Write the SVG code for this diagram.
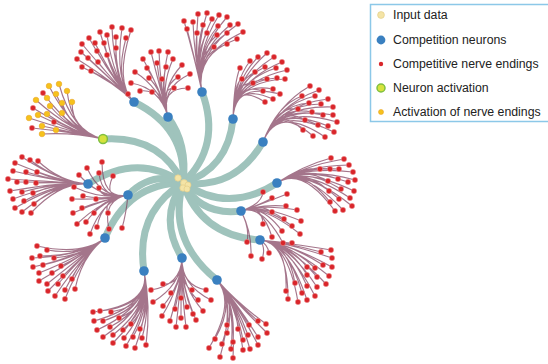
<svg xmlns="http://www.w3.org/2000/svg" width="548" height="364" viewBox="0 0 548 364">
<style>
.teal{fill:none;stroke:#95bdb5;stroke-width:7;stroke-linecap:round;opacity:.9}
.twig{fill:none;stroke:#82415f;stroke-width:1.15;opacity:.72}
.end circle{fill:#d9262b;stroke:#f3b3b3;stroke-width:.4}
.yend circle{fill:#f6c21c;stroke:#eaa52a;stroke-width:.6}
.neuron{fill:#3a80c0}
.act{fill:#d6e23c;stroke:#7fbf40;stroke-width:1.5}
.input{fill:#f4e4a6;stroke:#e4cf8a;stroke-width:.7}
.lbl{font-family:"Liberation Sans",Arial,sans-serif;font-size:12.3px;fill:#222}
</style>
<rect width="548" height="364" fill="#fff"/>
<g id="connectors">
<g id="trunks" class="teal">
<path d="M183,183Q187,128 134,102"/>
<path d="M183,183Q188,144 168,117"/>
<path d="M183,183Q160,135 103,139"/>
<path d="M183,183Q222,146 202,92"/>
<path d="M183,183Q228,169 233,119"/>
<path d="M183,183Q235,190 263,142"/>
<path d="M183,183Q228,214 277,183"/>
<path d="M183,183Q201,216 241,211"/>
<path d="M183,183Q201,236 260,240"/>
<path d="M183,183Q167,240 217,280"/>
<path d="M183,183Q158,218 182,258"/>
<path d="M183,183Q135,212 144,271"/>
<path d="M183,183Q128,183 105,238"/>
<path d="M183,183Q153,170 128,195"/>
<path d="M183,183Q138,152 88,184"/>
</g>
<g id="twigs" class="twig">
<path d="M134,102Q114,82 77,59M134,102Q114,82 82,67M134,102Q114,82 81,52M134,102Q114,82 82,44M134,102Q114,82 89,38M134,102Q114,82 100,32M134,102Q114,82 112,27M134,102Q114,82 122,28M134,102Q114,82 131,30M134,102Q114,82 126,38M134,102Q114,82 116,37M134,102Q114,82 107,35M134,102Q114,82 95,43M134,102Q114,82 104,43M134,102Q114,82 116,48M134,102Q114,82 97,51M134,102Q114,82 88,58M134,102Q114,82 107,55M134,102Q114,82 98,62M134,102Q114,82 91,71M134,102Q130,97 128,94"/>
<path d="M168,117Q160,88 135,72M168,117Q160,88 131,83M168,117Q160,88 140,91M168,117Q160,88 152,92M168,117Q160,88 143,59M168,117Q160,88 151,52M168,117Q160,88 159,51M168,117Q160,88 168,52M168,117Q160,88 173,59M168,117Q160,88 182,65M168,117Q160,88 178,77M168,117Q160,88 174,88M168,117Q160,88 147,68M168,117Q160,88 157,63M168,117Q160,88 166,67M168,117Q160,88 149,78M168,117Q160,88 162,79M168,117Q160,88 190,74M168,117Q160,88 188,88"/>
<path d="M103,139Q72,132 49,86M103,139Q72,132 59,84M103,139Q72,132 67,91M103,139Q72,132 72,102M103,139Q72,132 36,100M103,139Q72,132 47,98M103,139Q72,132 56,94M103,139Q72,132 62,103M103,139Q72,132 50,106M103,139Q72,132 38,115M103,139Q72,132 47,114M103,139Q72,132 62,113M103,139Q72,132 29,118M103,139Q72,132 42,126M103,139Q72,132 56,130M103,139Q72,132 42,134M103,139Q72,132 43,93M103,139Q72,132 33,108M103,139Q72,132 54,122M103,139Q72,132 32,128"/>
<path d="M202,92Q194,55 184,21M202,92Q194,55 193,22M202,92Q194,55 198,14M202,92Q194,55 207,13M202,92Q194,55 212,19M202,92Q194,55 219,15M202,92Q194,55 227,17M202,92Q194,55 238,24M202,92Q194,55 243,32M202,92Q194,55 237,39M202,92Q194,55 227,44M202,92Q194,55 214,47M202,92Q194,55 207,33M202,92Q194,55 218,26M202,92Q194,55 230,25M202,92Q194,55 227,33M202,92Q194,55 217,35M202,92Q194,55 187,29M202,92Q194,55 197,33M202,92Q194,55 203,25"/>
<path d="M233,119Q234,82 240,68M233,119Q234,82 250,61M233,119Q234,82 258,57M233,119Q234,82 267,53M233,119Q234,82 274,57M233,119Q234,82 282,62M233,119Q234,82 287,70M233,119Q234,82 285,79M233,119Q234,82 277,78M233,119Q234,82 267,79M233,119Q234,82 253,83M233,119Q234,82 242,79M233,119Q234,82 255,72M233,119Q234,82 265,67M233,119Q234,82 276,68M233,119Q234,82 263,91M233,119Q234,82 273,89M233,119Q234,82 280,94M233,119Q234,82 273,99M233,119Q234,82 265,102"/>
<path d="M263,142Q277,105 310,86M263,142Q277,105 319,90M263,142Q277,105 302,96M263,142Q277,105 315,96M263,142Q277,105 328,99M263,142Q277,105 309,103M263,142Q277,105 321,104M263,142Q277,105 333,107M263,142Q277,105 298,109M263,142Q277,105 312,112M263,142Q277,105 323,115M263,142Q277,105 333,115M263,142Q277,105 305,120M263,142Q277,105 318,125M263,142Q277,105 328,126M263,142Q277,105 337,122M263,142Q277,105 303,130M263,142Q277,105 313,136M263,142Q277,105 325,137M263,142Q277,105 334,132"/>
<path d="M277,183Q302,166 331,158M277,183Q302,166 344,159M277,183Q302,166 349,165M277,183Q302,166 320,169M277,183Q302,166 330,169M277,183Q302,166 339,169M277,183Q302,166 353,172M277,183Q302,166 328,181M277,183Q302,166 338,179M277,183Q302,166 348,182M277,183Q302,166 355,180M277,183Q302,166 329,191M277,183Q302,166 341,189M277,183Q302,166 354,191M277,183Q302,166 330,202M277,183Q302,166 339,199M277,183Q302,166 350,198M277,183Q302,166 335,211M277,183Q302,166 343,210M277,183Q302,166 352,206"/>
<path d="M241,211Q262,204 263,192M241,211Q262,204 272,198M241,211Q262,204 287,194M241,211Q262,204 286,206M241,211Q262,204 297,210M241,211Q262,204 272,212M241,211Q262,204 284,219M241,211Q262,204 301,221M241,211Q262,204 263,224M241,211Q262,204 282,231M241,211Q262,204 292,226M241,211Q262,204 300,234M241,211Q262,204 272,237M241,211Q262,204 283,243M241,211Q250,228 247,242M241,211Q252,232 251,256"/>
<path d="M260,240Q288,243 331,250M260,240Q288,243 332,258M260,240Q288,243 321,252M260,240Q288,243 332,267M260,240Q288,243 323,265M260,240Q288,243 315,268M260,240Q288,243 307,267M260,240Q288,243 329,276M260,240Q288,243 317,277M260,240Q288,243 307,275M260,240Q288,243 326,284M260,240Q288,243 317,287M260,240Q288,243 307,286M260,240Q288,243 295,283M260,240Q288,243 315,296M260,240Q288,243 307,300M260,240Q288,243 298,302M260,240Q288,243 302,293M260,240Q288,243 286,291M260,240Q288,243 288,299M260,240Q288,243 292,243M260,240Q266,248 262,259M260,240Q268,245 269,253"/>
<path d="M217,280Q236,302 209,348M217,280Q236,302 215,339M217,280Q236,302 222,344M217,280Q236,302 220,357M217,280Q236,302 227,333M217,280Q236,302 233,358M217,280Q236,302 231,349M217,280Q236,302 233,342M217,280Q236,302 238,329M217,280Q236,302 243,350M217,280Q236,302 243,340M217,280Q236,302 249,325M217,280Q236,302 250,349M217,280Q236,302 258,321M217,280Q236,302 258,345M217,280Q236,302 266,324M217,280Q236,302 267,333M217,280Q236,302 248,335M217,280Q236,302 258,337M217,280Q236,302 227,325"/>
<path d="M182,258Q181,285 163,284M182,258Q181,285 151,290M182,258Q181,285 153,302M182,258Q181,285 171,293M182,258Q181,285 163,306M182,258Q181,285 181,298M182,258Q181,285 192,290M182,258Q181,285 175,309M182,258Q181,285 162,316M182,258Q181,285 187,307M182,258Q181,285 198,300M182,258Q181,285 206,290M182,258Q181,285 211,300M182,258Q181,285 170,321M182,258Q181,285 181,318M182,258Q181,285 193,314M182,258Q181,285 203,311M182,258Q181,285 176,327M182,258Q181,285 186,327M182,258Q181,285 196,320"/>
<path d="M144,271Q151,305 93,312M144,271Q151,305 100,311M144,271Q151,305 111,312M144,271Q151,305 94,321M144,271Q151,305 103,321M144,271Q151,305 119,318M144,271Q151,305 131,324M144,271Q151,305 97,330M144,271Q151,305 110,327M144,271Q151,305 123,330M144,271Q151,305 140,329M144,271Q151,305 103,337M144,271Q151,305 113,335M144,271Q151,305 124,338M144,271Q151,305 133,337M144,271Q151,305 142,338M144,271Q151,305 113,343M144,271Q151,305 126,346M144,271Q151,305 135,348M144,271Q151,305 146,345"/>
<path d="M105,238Q82,256 37,246M105,238Q82,256 47,250M105,238Q82,256 32,258M105,238Q82,256 40,256M105,238Q82,256 54,258M105,238Q82,256 33,267M105,238Q82,256 43,265M105,238Q82,256 61,266M105,238Q82,256 39,273M105,238Q82,256 52,273M105,238Q82,256 63,276M105,238Q82,256 72,279M105,238Q82,256 39,281M105,238Q82,256 47,284M105,238Q82,256 58,284M105,238Q82,256 48,291M105,238Q82,256 65,290M105,238Q82,256 75,289M105,238Q82,256 55,296M105,238Q82,256 65,299"/>
<path d="M128,195Q102,200 87,168M128,195Q102,200 102,162M128,195Q102,200 79,175M128,195Q102,200 99,173M128,195Q102,200 113,176M128,195Q102,200 74,187M128,195Q102,200 99,188M128,195Q102,200 72,199M128,195Q102,200 83,196M128,195Q102,200 96,199M128,195Q102,200 73,213M128,195Q102,200 82,208M128,195Q102,200 94,213M128,195Q102,200 108,213M128,195Q102,200 77,224M128,195Q102,200 86,222M128,195Q102,200 97,227M128,195Q102,200 109,229M128,195Q102,200 90,234M128,195Q126,215 122,228"/>
<path d="M88,184Q60,182 22,157M88,184Q60,182 30,160M88,184Q60,182 15,163M88,184Q60,182 38,161M88,184Q60,182 26,172M88,184Q60,182 13,171M88,184Q60,182 37,172M88,184Q60,182 8,179M88,184Q60,182 17,182M88,184Q60,182 26,182M88,184Q60,182 36,183M88,184Q60,182 10,191M88,184Q60,182 22,192M88,184Q60,182 33,193M88,184Q60,182 13,199M88,184Q60,182 24,201M88,184Q60,182 34,204M88,184Q60,182 15,208M88,184Q60,182 22,212M88,184Q60,182 31,213"/>
</g>
</g>
<g id="endings" class="end">
<g id="endings-A"><circle cx="77" cy="59" r="2.7"/><circle cx="82" cy="67" r="2.7"/><circle cx="81" cy="52" r="2.7"/><circle cx="82" cy="44" r="2.7"/><circle cx="89" cy="38" r="2.7"/><circle cx="100" cy="32" r="2.7"/><circle cx="112" cy="27" r="2.7"/><circle cx="122" cy="28" r="2.7"/><circle cx="131" cy="30" r="2.7"/><circle cx="126" cy="38" r="2.7"/><circle cx="116" cy="37" r="2.7"/><circle cx="107" cy="35" r="2.7"/><circle cx="95" cy="43" r="2.7"/><circle cx="104" cy="43" r="2.7"/><circle cx="116" cy="48" r="2.7"/><circle cx="97" cy="51" r="2.7"/><circle cx="88" cy="58" r="2.7"/><circle cx="107" cy="55" r="2.7"/><circle cx="98" cy="62" r="2.7"/><circle cx="91" cy="71" r="2.7"/><circle cx="128" cy="94" r="2.7"/></g>
<g id="endings-B"><circle cx="135" cy="72" r="2.7"/><circle cx="131" cy="83" r="2.7"/><circle cx="140" cy="91" r="2.7"/><circle cx="152" cy="92" r="2.7"/><circle cx="143" cy="59" r="2.7"/><circle cx="151" cy="52" r="2.7"/><circle cx="159" cy="51" r="2.7"/><circle cx="168" cy="52" r="2.7"/><circle cx="173" cy="59" r="2.7"/><circle cx="182" cy="65" r="2.7"/><circle cx="178" cy="77" r="2.7"/><circle cx="174" cy="88" r="2.7"/><circle cx="147" cy="68" r="2.7"/><circle cx="157" cy="63" r="2.7"/><circle cx="166" cy="67" r="2.7"/><circle cx="149" cy="78" r="2.7"/><circle cx="162" cy="79" r="2.7"/><circle cx="190" cy="74" r="2.7"/><circle cx="188" cy="88" r="2.7"/></g>
<g id="endings-C"><circle cx="43" cy="93" r="2.7"/><circle cx="33" cy="108" r="2.7"/><circle cx="54" cy="122" r="2.7"/><circle cx="32" cy="128" r="2.7"/></g>
<g id="endings-D"><circle cx="184" cy="21" r="2.7"/><circle cx="193" cy="22" r="2.7"/><circle cx="198" cy="14" r="2.7"/><circle cx="207" cy="13" r="2.7"/><circle cx="212" cy="19" r="2.7"/><circle cx="219" cy="15" r="2.7"/><circle cx="227" cy="17" r="2.7"/><circle cx="238" cy="24" r="2.7"/><circle cx="243" cy="32" r="2.7"/><circle cx="237" cy="39" r="2.7"/><circle cx="227" cy="44" r="2.7"/><circle cx="214" cy="47" r="2.7"/><circle cx="207" cy="33" r="2.7"/><circle cx="218" cy="26" r="2.7"/><circle cx="230" cy="25" r="2.7"/><circle cx="227" cy="33" r="2.7"/><circle cx="217" cy="35" r="2.7"/><circle cx="187" cy="29" r="2.7"/><circle cx="197" cy="33" r="2.7"/><circle cx="203" cy="25" r="2.7"/></g>
<g id="endings-E"><circle cx="240" cy="68" r="2.7"/><circle cx="250" cy="61" r="2.7"/><circle cx="258" cy="57" r="2.7"/><circle cx="267" cy="53" r="2.7"/><circle cx="274" cy="57" r="2.7"/><circle cx="282" cy="62" r="2.7"/><circle cx="287" cy="70" r="2.7"/><circle cx="285" cy="79" r="2.7"/><circle cx="277" cy="78" r="2.7"/><circle cx="267" cy="79" r="2.7"/><circle cx="253" cy="83" r="2.7"/><circle cx="242" cy="79" r="2.7"/><circle cx="255" cy="72" r="2.7"/><circle cx="265" cy="67" r="2.7"/><circle cx="276" cy="68" r="2.7"/><circle cx="263" cy="91" r="2.7"/><circle cx="273" cy="89" r="2.7"/><circle cx="280" cy="94" r="2.7"/><circle cx="273" cy="99" r="2.7"/><circle cx="265" cy="102" r="2.7"/></g>
<g id="endings-F"><circle cx="310" cy="86" r="2.7"/><circle cx="319" cy="90" r="2.7"/><circle cx="302" cy="96" r="2.7"/><circle cx="315" cy="96" r="2.7"/><circle cx="328" cy="99" r="2.7"/><circle cx="309" cy="103" r="2.7"/><circle cx="321" cy="104" r="2.7"/><circle cx="333" cy="107" r="2.7"/><circle cx="298" cy="109" r="2.7"/><circle cx="312" cy="112" r="2.7"/><circle cx="323" cy="115" r="2.7"/><circle cx="333" cy="115" r="2.7"/><circle cx="305" cy="120" r="2.7"/><circle cx="318" cy="125" r="2.7"/><circle cx="328" cy="126" r="2.7"/><circle cx="337" cy="122" r="2.7"/><circle cx="303" cy="130" r="2.7"/><circle cx="313" cy="136" r="2.7"/><circle cx="325" cy="137" r="2.7"/><circle cx="334" cy="132" r="2.7"/></g>
<g id="endings-G"><circle cx="331" cy="158" r="2.7"/><circle cx="344" cy="159" r="2.7"/><circle cx="349" cy="165" r="2.7"/><circle cx="320" cy="169" r="2.7"/><circle cx="330" cy="169" r="2.7"/><circle cx="339" cy="169" r="2.7"/><circle cx="353" cy="172" r="2.7"/><circle cx="328" cy="181" r="2.7"/><circle cx="338" cy="179" r="2.7"/><circle cx="348" cy="182" r="2.7"/><circle cx="355" cy="180" r="2.7"/><circle cx="329" cy="191" r="2.7"/><circle cx="341" cy="189" r="2.7"/><circle cx="354" cy="191" r="2.7"/><circle cx="330" cy="202" r="2.7"/><circle cx="339" cy="199" r="2.7"/><circle cx="350" cy="198" r="2.7"/><circle cx="335" cy="211" r="2.7"/><circle cx="343" cy="210" r="2.7"/><circle cx="352" cy="206" r="2.7"/></g>
<g id="endings-H"><circle cx="263" cy="192" r="2.7"/><circle cx="272" cy="198" r="2.7"/><circle cx="287" cy="194" r="2.7"/><circle cx="286" cy="206" r="2.7"/><circle cx="297" cy="210" r="2.7"/><circle cx="272" cy="212" r="2.7"/><circle cx="284" cy="219" r="2.7"/><circle cx="301" cy="221" r="2.7"/><circle cx="263" cy="224" r="2.7"/><circle cx="282" cy="231" r="2.7"/><circle cx="292" cy="226" r="2.7"/><circle cx="300" cy="234" r="2.7"/><circle cx="272" cy="237" r="2.7"/><circle cx="283" cy="243" r="2.7"/><circle cx="247" cy="242" r="2.7"/><circle cx="251" cy="256" r="2.7"/></g>
<g id="endings-I"><circle cx="331" cy="250" r="2.7"/><circle cx="332" cy="258" r="2.7"/><circle cx="321" cy="252" r="2.7"/><circle cx="332" cy="267" r="2.7"/><circle cx="323" cy="265" r="2.7"/><circle cx="315" cy="268" r="2.7"/><circle cx="307" cy="267" r="2.7"/><circle cx="329" cy="276" r="2.7"/><circle cx="317" cy="277" r="2.7"/><circle cx="307" cy="275" r="2.7"/><circle cx="326" cy="284" r="2.7"/><circle cx="317" cy="287" r="2.7"/><circle cx="307" cy="286" r="2.7"/><circle cx="295" cy="283" r="2.7"/><circle cx="315" cy="296" r="2.7"/><circle cx="307" cy="300" r="2.7"/><circle cx="298" cy="302" r="2.7"/><circle cx="302" cy="293" r="2.7"/><circle cx="286" cy="291" r="2.7"/><circle cx="288" cy="299" r="2.7"/><circle cx="292" cy="243" r="2.7"/><circle cx="262" cy="259" r="2.7"/><circle cx="269" cy="253" r="2.7"/></g>
<g id="endings-J"><circle cx="209" cy="348" r="2.7"/><circle cx="215" cy="339" r="2.7"/><circle cx="222" cy="344" r="2.7"/><circle cx="220" cy="357" r="2.7"/><circle cx="227" cy="333" r="2.7"/><circle cx="233" cy="358" r="2.7"/><circle cx="231" cy="349" r="2.7"/><circle cx="233" cy="342" r="2.7"/><circle cx="238" cy="329" r="2.7"/><circle cx="243" cy="350" r="2.7"/><circle cx="243" cy="340" r="2.7"/><circle cx="249" cy="325" r="2.7"/><circle cx="250" cy="349" r="2.7"/><circle cx="258" cy="321" r="2.7"/><circle cx="258" cy="345" r="2.7"/><circle cx="266" cy="324" r="2.7"/><circle cx="267" cy="333" r="2.7"/><circle cx="248" cy="335" r="2.7"/><circle cx="258" cy="337" r="2.7"/><circle cx="227" cy="325" r="2.7"/></g>
<g id="endings-K"><circle cx="163" cy="284" r="2.7"/><circle cx="151" cy="290" r="2.7"/><circle cx="153" cy="302" r="2.7"/><circle cx="171" cy="293" r="2.7"/><circle cx="163" cy="306" r="2.7"/><circle cx="181" cy="298" r="2.7"/><circle cx="192" cy="290" r="2.7"/><circle cx="175" cy="309" r="2.7"/><circle cx="162" cy="316" r="2.7"/><circle cx="187" cy="307" r="2.7"/><circle cx="198" cy="300" r="2.7"/><circle cx="206" cy="290" r="2.7"/><circle cx="211" cy="300" r="2.7"/><circle cx="170" cy="321" r="2.7"/><circle cx="181" cy="318" r="2.7"/><circle cx="193" cy="314" r="2.7"/><circle cx="203" cy="311" r="2.7"/><circle cx="176" cy="327" r="2.7"/><circle cx="186" cy="327" r="2.7"/><circle cx="196" cy="320" r="2.7"/></g>
<g id="endings-L"><circle cx="93" cy="312" r="2.7"/><circle cx="100" cy="311" r="2.7"/><circle cx="111" cy="312" r="2.7"/><circle cx="94" cy="321" r="2.7"/><circle cx="103" cy="321" r="2.7"/><circle cx="119" cy="318" r="2.7"/><circle cx="131" cy="324" r="2.7"/><circle cx="97" cy="330" r="2.7"/><circle cx="110" cy="327" r="2.7"/><circle cx="123" cy="330" r="2.7"/><circle cx="140" cy="329" r="2.7"/><circle cx="103" cy="337" r="2.7"/><circle cx="113" cy="335" r="2.7"/><circle cx="124" cy="338" r="2.7"/><circle cx="133" cy="337" r="2.7"/><circle cx="142" cy="338" r="2.7"/><circle cx="113" cy="343" r="2.7"/><circle cx="126" cy="346" r="2.7"/><circle cx="135" cy="348" r="2.7"/><circle cx="146" cy="345" r="2.7"/></g>
<g id="endings-M"><circle cx="37" cy="246" r="2.7"/><circle cx="47" cy="250" r="2.7"/><circle cx="32" cy="258" r="2.7"/><circle cx="40" cy="256" r="2.7"/><circle cx="54" cy="258" r="2.7"/><circle cx="33" cy="267" r="2.7"/><circle cx="43" cy="265" r="2.7"/><circle cx="61" cy="266" r="2.7"/><circle cx="39" cy="273" r="2.7"/><circle cx="52" cy="273" r="2.7"/><circle cx="63" cy="276" r="2.7"/><circle cx="72" cy="279" r="2.7"/><circle cx="39" cy="281" r="2.7"/><circle cx="47" cy="284" r="2.7"/><circle cx="58" cy="284" r="2.7"/><circle cx="48" cy="291" r="2.7"/><circle cx="65" cy="290" r="2.7"/><circle cx="75" cy="289" r="2.7"/><circle cx="55" cy="296" r="2.7"/><circle cx="65" cy="299" r="2.7"/></g>
<g id="endings-N"><circle cx="87" cy="168" r="2.7"/><circle cx="102" cy="162" r="2.7"/><circle cx="79" cy="175" r="2.7"/><circle cx="99" cy="173" r="2.7"/><circle cx="113" cy="176" r="2.7"/><circle cx="74" cy="187" r="2.7"/><circle cx="99" cy="188" r="2.7"/><circle cx="72" cy="199" r="2.7"/><circle cx="83" cy="196" r="2.7"/><circle cx="96" cy="199" r="2.7"/><circle cx="73" cy="213" r="2.7"/><circle cx="82" cy="208" r="2.7"/><circle cx="94" cy="213" r="2.7"/><circle cx="108" cy="213" r="2.7"/><circle cx="77" cy="224" r="2.7"/><circle cx="86" cy="222" r="2.7"/><circle cx="97" cy="227" r="2.7"/><circle cx="109" cy="229" r="2.7"/><circle cx="90" cy="234" r="2.7"/><circle cx="122" cy="228" r="2.7"/></g>
<g id="endings-O"><circle cx="22" cy="157" r="2.7"/><circle cx="30" cy="160" r="2.7"/><circle cx="15" cy="163" r="2.7"/><circle cx="38" cy="161" r="2.7"/><circle cx="26" cy="172" r="2.7"/><circle cx="13" cy="171" r="2.7"/><circle cx="37" cy="172" r="2.7"/><circle cx="8" cy="179" r="2.7"/><circle cx="17" cy="182" r="2.7"/><circle cx="26" cy="182" r="2.7"/><circle cx="36" cy="183" r="2.7"/><circle cx="10" cy="191" r="2.7"/><circle cx="22" cy="192" r="2.7"/><circle cx="33" cy="193" r="2.7"/><circle cx="13" cy="199" r="2.7"/><circle cx="24" cy="201" r="2.7"/><circle cx="34" cy="204" r="2.7"/><circle cx="15" cy="208" r="2.7"/><circle cx="22" cy="212" r="2.7"/><circle cx="31" cy="213" r="2.7"/></g>
</g>
<g id="activated-endings" class="yend">
<circle cx="49" cy="86" r="2.8"/><circle cx="59" cy="84" r="2.8"/><circle cx="67" cy="91" r="2.8"/><circle cx="72" cy="102" r="2.8"/><circle cx="36" cy="100" r="2.8"/><circle cx="47" cy="98" r="2.8"/><circle cx="56" cy="94" r="2.8"/><circle cx="62" cy="103" r="2.8"/><circle cx="50" cy="106" r="2.8"/><circle cx="38" cy="115" r="2.8"/><circle cx="47" cy="114" r="2.8"/><circle cx="62" cy="113" r="2.8"/><circle cx="29" cy="118" r="2.8"/><circle cx="42" cy="126" r="2.8"/><circle cx="56" cy="130" r="2.8"/><circle cx="42" cy="134" r="2.8"/>
</g>
<g id="neuron-A"><circle class="neuron" cx="134" cy="102" r="4.8"/></g>
<g id="neuron-B"><circle class="neuron" cx="168" cy="117" r="4.8"/></g>
<g id="neuron-C"><circle class="act" cx="103" cy="139" r="4.4"/></g>
<g id="neuron-D"><circle class="neuron" cx="202" cy="92" r="4.8"/></g>
<g id="neuron-E"><circle class="neuron" cx="233" cy="119" r="4.8"/></g>
<g id="neuron-F"><circle class="neuron" cx="263" cy="142" r="4.8"/></g>
<g id="neuron-G"><circle class="neuron" cx="277" cy="183" r="4.8"/></g>
<g id="neuron-H"><circle class="neuron" cx="241" cy="211" r="4.8"/></g>
<g id="neuron-I"><circle class="neuron" cx="260" cy="240" r="4.8"/></g>
<g id="neuron-J"><circle class="neuron" cx="217" cy="280" r="4.8"/></g>
<g id="neuron-K"><circle class="neuron" cx="182" cy="258" r="4.8"/></g>
<g id="neuron-L"><circle class="neuron" cx="144" cy="271" r="4.8"/></g>
<g id="neuron-M"><circle class="neuron" cx="105" cy="238" r="4.8"/></g>
<g id="neuron-N"><circle class="neuron" cx="128" cy="195" r="4.8"/></g>
<g id="neuron-O"><circle class="neuron" cx="88" cy="184" r="4.8"/></g>
<g id="input-data" class="input">
<circle cx="178" cy="178" r="3.2"/><circle cx="184" cy="183" r="3.4"/><circle cx="188" cy="185" r="3"/><circle cx="183" cy="188" r="3.2"/><circle cx="187" cy="189" r="3"/>
</g>
<g id="legend">
<rect x="370.5" y="4.5" width="190" height="117" fill="#fff" stroke="#8cc8e8" stroke-width="1.5"/>
<circle class="input" cx="381" cy="15" r="3.4"/>
<text class="lbl" x="393" y="19.3">Input data</text>
<circle class="neuron" cx="381" cy="40" r="4.4"/>
<text class="lbl" x="393" y="44.3">Competition neurons</text>
<circle cx="381" cy="64" r="2.2" fill="#d9262b"/>
<text class="lbl" x="393" y="68.3">Competitive nerve endings</text>
<circle class="act" cx="381" cy="88" r="4"/>
<text class="lbl" x="393" y="92.3">Neuron activation</text>
<circle cx="381" cy="112" r="2.5" fill="#f6c21c" stroke="#eaa52a" stroke-width=".6"/>
<text class="lbl" x="393" y="116.3">Activation of nerve endings</text>
</g>
</svg>
